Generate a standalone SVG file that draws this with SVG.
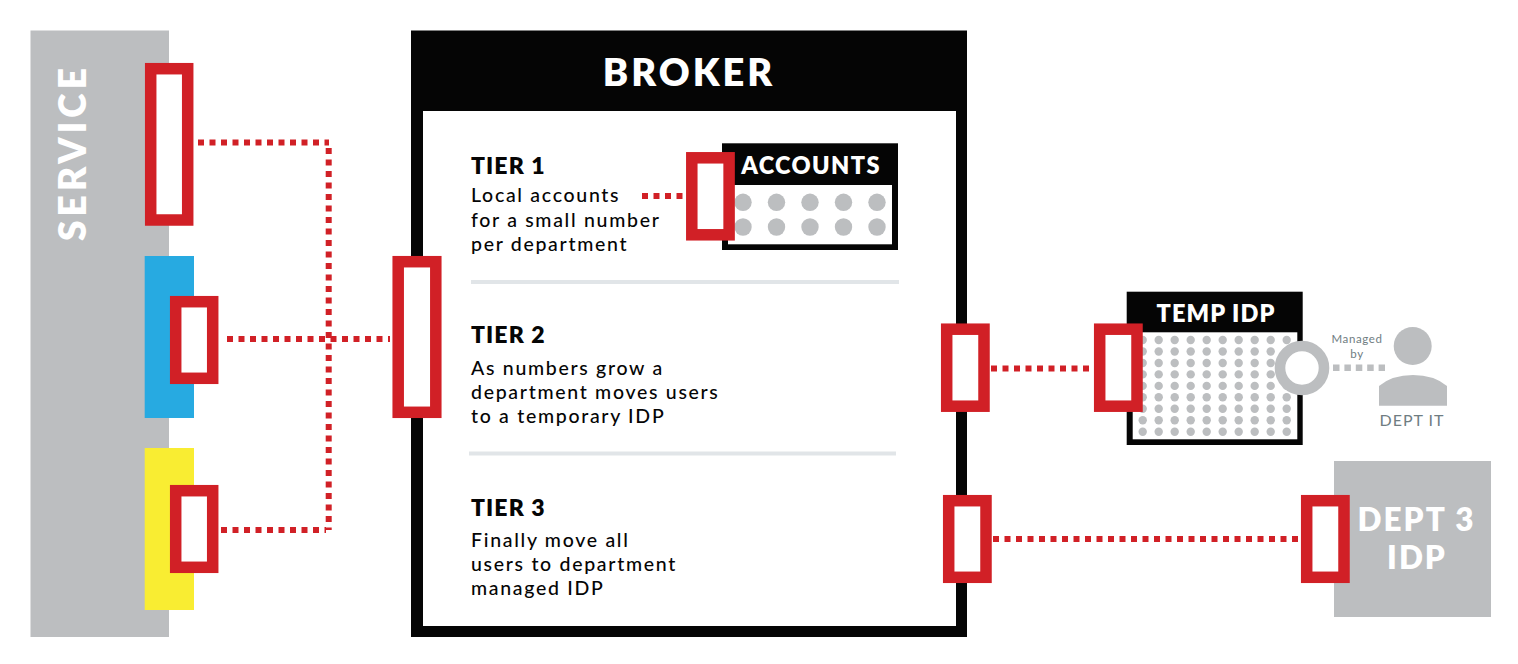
<svg xmlns="http://www.w3.org/2000/svg" width="1518" height="664" viewBox="0 0 1518 664">
<style>
text{font-family:"Lato","Liberation Sans",sans-serif}
.port{fill:#fff;stroke:#d12026;stroke-width:11.5}
.lnk{fill:none;stroke:#d12026;stroke-width:6;stroke-dasharray:6 5.5}
.g{fill:#bcbec0}
.h{font-weight:800;fill:#fff;text-anchor:middle}
.t{font-weight:800;font-size:23px;letter-spacing:1.1px;fill:#050505}
.b{font-size:19.5px;font-weight:500;letter-spacing:1.7px;fill:#050505}
.m{fill:#6f7d82;text-anchor:middle}
.sep{stroke:#e1e5e8;stroke-width:4}
</style>
<rect width="1518" height="664" fill="#fff"/>
<g id="service">
<rect class="g" x="30.500" y="30.500" width="138.500" height="606.500"/>
<rect x="144.700" y="256" width="49.300" height="162" fill="#27aae1"/>
<rect x="144.700" y="448" width="49.300" height="162" fill="#f9ed32"/>
<text class="h" transform="translate(86 152.500) rotate(-90)" font-size="37" letter-spacing="4.100">SERVICE</text>
<rect class="port" x="150.700" y="68.700" width="37" height="151.300"/>
<rect class="port" x="175.700" y="301.700" width="37" height="76.600"/>
<rect class="port" x="175.700" y="490.700" width="37" height="76.600"/>
</g>
<g id="broker">
<rect x="411" y="30.500" width="556" height="606.500" fill="#050505"/>
<rect x="423" y="111" width="533" height="515" fill="#fff"/>
<text class="h" x="689" y="86" font-size="38" letter-spacing="3">BROKER</text>
<line class="sep" x1="471" y1="282" x2="899" y2="282"/>
<line class="sep" x1="469" y1="453.500" x2="896" y2="453.500"/>
<text class="t" x="471" y="174">TIER 1</text>
<text class="b" x="471" y="202">Local accounts</text>
<text class="b" x="471" y="227">for a small number</text>
<text class="b" x="471" y="251">per department</text>
<text class="t" x="471" y="343">TIER 2</text>
<text class="b" x="471" y="375">As numbers grow a</text>
<text class="b" x="471" y="399">department moves users</text>
<text class="b" x="471" y="423">to a temporary IDP</text>
<text class="t" x="471" y="516">TIER 3</text>
<text class="b" x="471" y="547">Finally move all</text>
<text class="b" x="471" y="571">users to department</text>
<text class="b" x="471" y="595">managed IDP</text>
<rect class="port" x="398.200" y="261.700" width="37.600" height="150.600"/>
<rect class="port" x="946.700" y="329.200" width="37.300" height="77"/>
<rect class="port" x="948.700" y="500.700" width="37.300" height="76.600"/>
</g>
<g id="accounts">
<rect x="722" y="143.300" width="176" height="106.700" fill="#050505"/>
<rect x="728" y="185" width="164" height="59.300" fill="#fff"/>
<g class="g">
<circle cx="743" cy="202.300" r="8.700"/><circle cx="776.500" cy="202.300" r="8.700"/><circle cx="810" cy="202.300" r="8.700"/><circle cx="843.500" cy="202.300" r="8.700"/><circle cx="877" cy="202.300" r="8.700"/>
<circle cx="743" cy="227" r="8.700"/><circle cx="776.500" cy="227" r="8.700"/><circle cx="810" cy="227" r="8.700"/><circle cx="843.500" cy="227" r="8.700"/><circle cx="877" cy="227" r="8.700"/>
</g>
<text class="h" x="811" y="174" font-size="23.500" letter-spacing="1.400">ACCOUNTS</text>
<rect class="port" x="691.800" y="157.800" width="37.300" height="77"/>
</g>
<g id="temp-idp">
<rect x="1126.700" y="291.700" width="176" height="153.300" fill="#050505"/>
<rect x="1132.700" y="332.300" width="164.600" height="107" fill="#fff"/>
<defs>
<g id="col" class="g"><circle cx="0" cy="340" r="4.200"/><circle cx="0" cy="351.500" r="4.200"/><circle cx="0" cy="363" r="4.200"/><circle cx="0" cy="374.400" r="4.200"/><circle cx="0" cy="385.900" r="4.200"/><circle cx="0" cy="397.300" r="4.200"/><circle cx="0" cy="408.800" r="4.200"/><circle cx="0" cy="420.200" r="4.200"/><circle cx="0" cy="431.700" r="4.200"/></g>
</defs>
<use href="#col" x="1142.700"/><use href="#col" x="1158.700"/><use href="#col" x="1174.700"/><use href="#col" x="1190.700"/><use href="#col" x="1206.700"/><use href="#col" x="1222.700"/><use href="#col" x="1238.700"/><use href="#col" x="1254.700"/><use href="#col" x="1270.700"/><use href="#col" x="1286.700"/>
<text class="h" x="1216" y="322" font-size="23.500" letter-spacing="1.100">TEMP IDP</text>
<circle cx="1302" cy="368" r="22" fill="#fff" stroke="#bcbec0" stroke-width="10.600"/>
<rect class="port" x="1099.700" y="329.200" width="37.300" height="77"/>
</g>
<g id="dept-it">
<circle class="g" cx="1412.700" cy="346" r="19"/>
<path class="g" d="M1379 405.700V386Q1392 375 1413 375T1447 386V405.700Z"/>
<text class="m" x="1357" y="343" font-size="11.500" letter-spacing=".6">Managed</text>
<text class="m" x="1357" y="358" font-size="11.500" letter-spacing=".6">by</text>
<text class="m" x="1412" y="426" font-size="16" letter-spacing="1">DEPT IT</text>
</g>
<g id="dept3">
<rect class="g" x="1334" y="461" width="157" height="156"/>
<text class="h" x="1416.500" y="531" font-size="31.500" letter-spacing="2">DEPT 3</text>
<text class="h" x="1417" y="569" font-size="31.500" letter-spacing="2">IDP</text>
<rect class="port" x="1306.700" y="500.700" width="37.300" height="76.600"/>
</g>
<g id="connectors">
<path class="lnk" d="M198 142.500H329"/>
<path class="lnk" d="M328.700 148V530"/>
<path class="lnk" d="M227 339H390"/>
<path class="lnk" d="M221 530H326"/>
<path class="lnk" d="M642 196H684"/>
<path class="lnk" d="M991 368.500H1090"/>
<path class="lnk" d="M993 539H1298"/>
<path d="M1333 367.700H1385" fill="none" stroke="#bcbec0" stroke-width="6.500" stroke-dasharray="6.500 4.900"/>
</g>
</svg>
